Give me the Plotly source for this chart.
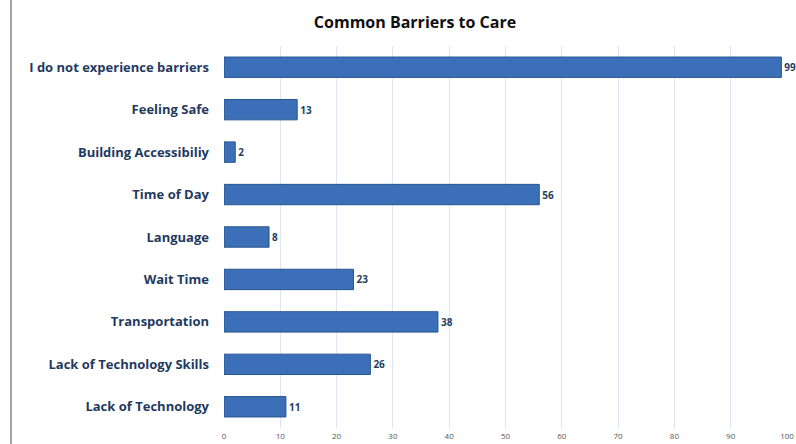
import plotly.graph_objects as go

categories = ["I do not experience barriers", "Feeling Safe", "Building Accessibiliy",
              "Time of Day", "Language", "Wait Time", "Transportation",
              "Lack of Technology Skills", "Lack of Technology"]
values = [99, 13, 2, 56, 8, 23, 38, 26, 11]
x_ticks = [0, 10, 20, 30, 40, 50, 60, 70, 80, 90, 100]

fig = go.Figure(go.Bar(
    y=categories, x=values, orientation="h",
    marker=dict(color="#3b6fb7", line=dict(color="#2a558f", width=1)),
    text=values, textposition="outside", cliponaxis=False,
    textfont=dict(family="Open Sans", size=10, color="#243f60", weight="bold"),
    width=0.48,
))

fig.update_layout(
    width=796, height=444,
    margin=dict(l=224, r=9, t=46, b=16),
    paper_bgcolor="white", plot_bgcolor="white",
    title=dict(text="<b>Common Barriers to Care</b>", x=415/796, xanchor="center",
               y=1 - 22/444, yanchor="middle",
               font=dict(family="Open Sans", size=16, color="#111111")),
    showlegend=False,
    xaxis=dict(range=[0, 100], tickvals=x_ticks, showgrid=True, gridcolor="#dce6f2",
               gridwidth=1, zeroline=False, showline=False, automargin=False,
               tickfont=dict(family="Open Sans", size=8, color="#555555"), ticklen=0,
               ticklabelstandoff=2),
    yaxis=dict(categoryorder="array", categoryarray=categories[::-1],
               range=[-0.5, 8.5], showgrid=False, zeroline=False, showline=False,
               automargin=False, ticklabelstandoff=14,
               tickfont=dict(family="Open Sans", size=13, color="#1f3a60", weight="bold")),
    shapes=[dict(type="line", xref="paper", yref="paper",
                 x0=-213/563, x1=-213/563, y0=-16/382, y1=1 + 46/382,
                 line=dict(color="#a6a6a6", width=2))],
)

fig.write_html("out.html")
